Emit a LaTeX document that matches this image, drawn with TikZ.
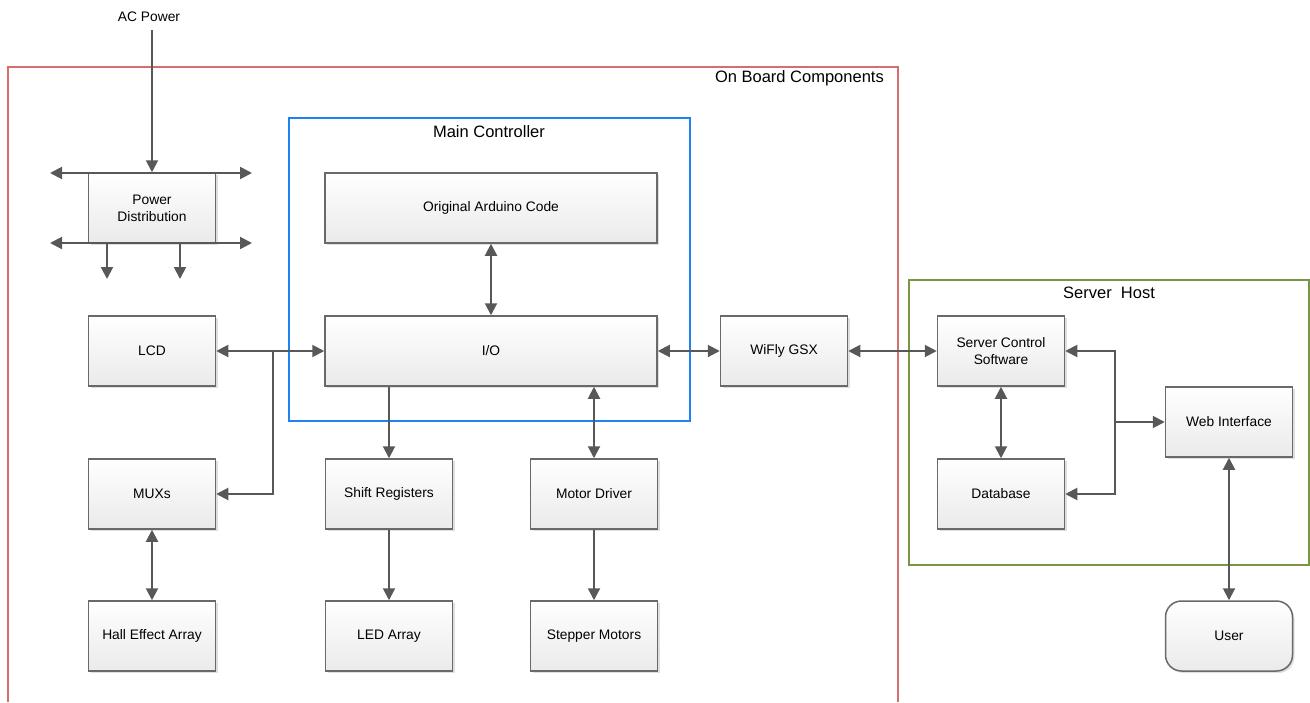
\documentclass[tikz,border=0pt]{standalone}
\usepackage{fontspec}
\setmainfont{Liberation Sans}
\usetikzlibrary{arrows.meta,shadows}
\definecolor{linegray}{RGB}{88,88,88}
\definecolor{boxborder}{RGB}{105,105,105}
\definecolor{boxbottom}{RGB}{234,234,234}
\definecolor{redc}{RGB}{214,110,110}
\definecolor{bluec}{RGB}{30,130,240}
\definecolor{greenc}{RGB}{120,150,70}
\tikzset{
  blk/.style={draw=boxborder, line width=1.5pt, top color=white, bottom color=boxbottom,
    minimum width=127pt, minimum height=70pt, inner sep=2pt, align=center,
    font=\fontsize{13.8}{17}\selectfont,
    drop shadow={opacity=0.25, shadow xshift=2pt, shadow yshift=-2pt}},
  wide/.style={blk, minimum width=332pt},
  conn/.style={draw=linegray, line width=2pt, -{Triangle[length=12pt,width=12pt]}},
  bi/.style={draw=linegray, line width=2pt, {Triangle[length=12pt,width=12pt]}-{Triangle[length=12pt,width=12pt]}},
  ttl/.style={font=\fontsize{16.5}{19}\selectfont, inner sep=0pt},
}
\begin{document}
\begin{tikzpicture}[x=1pt,y=-1pt]
\useasboundingbox[fill=white] (0,0) rectangle (1310,702);
% containers
\draw[redc, line width=1.5pt] (8,702) -- (8,67) -- (898,67) -- (898,702);
\node[ttl, anchor=east] (obc) at (884,78) {On Board Components};
\draw[bluec, line width=1.5pt] (289,118) rectangle (690,421);
\node[ttl] (mc) at (489,132) {Main Controller};
\draw[greenc, line width=1.5pt] (909,280) rectangle (1309,565);
\node[ttl] (sh) at (1109,293) {Server\ \ Host};
% power
\node[font=\fontsize{13.8}{17}\selectfont, inner sep=1pt] (ac) at (149,17) {AC Power};
\coordinate (acs) at (152,30);
\coordinate (pl1) at (50,173); \coordinate (pr1) at (252,173);
\coordinate (pl2) at (50,243); \coordinate (pr2) at (252,243);
\coordinate (d1) at (107,279); \coordinate (d2) at (180,279);
\node[blk] (pd) at (152,208) {Power\\Distribution};
\draw[bi] (pl1) -- (pr1);
\draw[bi] (pl2) -- (pr2);
\draw[conn] (pd.south -| d1) -- (d1);
\draw[conn] (pd.south -| d2) -- (d2);
\draw[conn] (acs) -- (pd.north);
% boxes
\node[wide] (oac) at (491,208) {Original Arduino Code};
\node[blk] (lcd) at (152,351) {LCD};
\node[wide] (io) at (491,351) {I/O};
\node[blk] (wifi) at (784,351) {WiFly GSX};
\node[blk] (mux) at (152,494) {MUXs};
\node[blk] (sr) at (389,494) {Shift Registers};
\node[blk] (md) at (594,494) {Motor Driver};
\node[blk] (hall) at (152,636) {Hall Effect Array};
\node[blk] (led) at (389,636) {LED Array};
\node[blk] (step) at (594,636) {Stepper Motors};
\node[blk] (scs) at (1001,351) {Server Control\\Software};
\node[blk] (db) at (1001,494) {Database};
\node[blk] (web) at (1229,422) {Web Interface};
\node[blk, rounded corners=16pt] (user) at (1229,636) {User};
% connectors
\draw[bi] (oac.south) -- (io.north);
\draw[bi] (lcd.east) -- (io.west);
\coordinate (j1) at (273,351);
\draw[conn] (j1) |- (mux.east);
\draw[bi] (io.east) -- (wifi.west);
\draw[bi] (wifi.east) -- (scs.west);
\draw[conn] (sr.north |- io.south) -- (sr.north);
\draw[bi] (md.north |- io.south) -- (md.north);
\draw[conn] (sr.south) -- (led.north);
\draw[conn] (md.south) -- (step.north);
\draw[bi] (mux.south) -- (hall.north);
\draw[bi] (scs.south) -- (db.north);
\coordinate (j2) at (1115,422);
\draw[conn] (j2) -- (web.west);
\draw[conn] (j2) |- (scs.east);
\draw[conn] (j2) |- (db.east);
\draw[bi] (web.south) -- (user.north);
\end{tikzpicture}
\end{document}
